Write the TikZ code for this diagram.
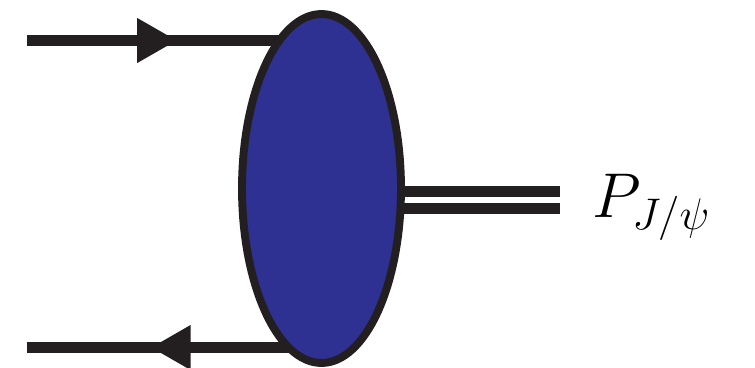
\RequirePackage{fix-cm}
\documentclass[tikz,border=0pt]{standalone}
\usetikzlibrary{arrows.meta,positioning,shapes.geometric,decorations.markings,backgrounds}

\definecolor{blobblue}{HTML}{2E3192}
\definecolor{inkblack}{HTML}{231F20}

\begin{document}
\begin{tikzpicture}[x=0.02cm, y=-0.02cm, >=Triangle]

\tikzset{
  blob/.style={
    ellipse, draw=inkblack, fill=blobblue, line width=4.5pt,
    inner sep=0pt, minimum width=3.18cm, minimum height=6.98cm
  },
  quark/.style={draw=inkblack, line width=6.6pt},
  midarrow/.style={
    postaction={decorate},
    decoration={markings,
      mark=at position #1 with {\arrow{Triangle[length=0.8cm, width=0.84cm, fill=inkblack]}}}
  },
  meson/.style={
    draw=inkblack, line width=6.2pt, double=white, double distance=3.4pt
  },
  lbl/.style={font=\fontsize{36}{40}\selectfont, inner sep=0pt}
}

\useasboundingbox (0,0) rectangle (755,368);

% ==========================
% Blob (bound state)
% ==========================
\node[blob] (blob) at (321.5,188.5) {};

% Free ends of the lines
\coordinate (qin)  at (27,40.5);
\coordinate (qout) at (27,347.5);
\coordinate (pend) at (560,200);

% ==========================
% Quark lines and meson (behind the blob)
% ==========================
\begin{scope}[on background layer]
  \draw[quark, midarrow=0.51] (qin) -- (qin -| blob.center);
  \draw[quark, midarrow=0.58] (qout -| blob.center) -- (qout);
  \draw[meson] (pend -| blob.center) -- (pend);
\end{scope}

% Label
\node[lbl, anchor=base west] (plabel) at (592,218) {$P_{J/\psi}$};

\end{tikzpicture}
\end{document}
